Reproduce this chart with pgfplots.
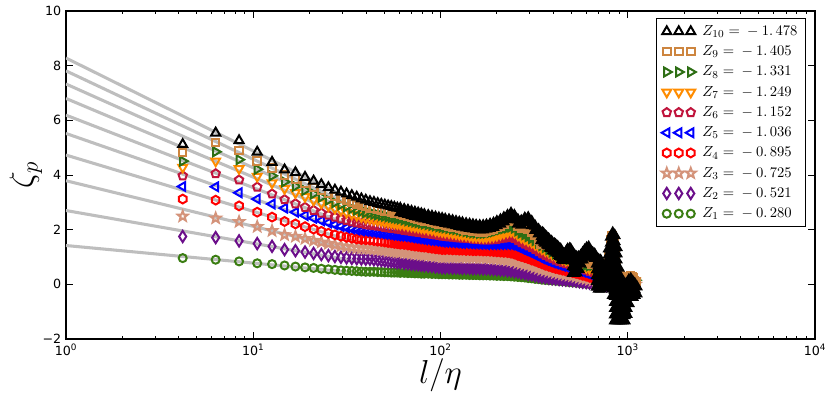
\documentclass[border=0pt]{standalone}
\usepackage{fontspec}
\usepackage{pgfplots}
\pgfplotsset{compat=1.18}
\usepackage{pgfplotstable}
\newfontfamily\dv{DejaVu Sans}
\definecolor{cZ1}{HTML}{3A7D12}
\definecolor{cZ2}{HTML}{6B0E8A}
\definecolor{cZ3}{HTML}{D4937A}
\definecolor{cZ4}{HTML}{FF0000}
\definecolor{cZ5}{HTML}{0000FF}
\definecolor{cZ6}{HTML}{C0143C}
\definecolor{cZ7}{HTML}{FF8C00}
\definecolor{cZ8}{HTML}{2D6E14}
\definecolor{cZ9}{HTML}{CD853F}
\definecolor{cZ10}{HTML}{000000}
\definecolor{fitgray}{HTML}{BEBEBE}

\pgfdeclareplotmark{hexa}{%
  \pgfpathmoveto{\pgfpointpolar{90}{\pgfplotmarksize}}%
  \pgfpathlineto{\pgfpointpolar{150}{\pgfplotmarksize}}%
  \pgfpathlineto{\pgfpointpolar{210}{\pgfplotmarksize}}%
  \pgfpathlineto{\pgfpointpolar{270}{\pgfplotmarksize}}%
  \pgfpathlineto{\pgfpointpolar{330}{\pgfplotmarksize}}%
  \pgfpathlineto{\pgfpointpolar{30}{\pgfplotmarksize}}%
  \pgfpathclose\pgfusepathqstroke}
\pgfdeclareplotmark{hexa*}{%
  \pgfpathmoveto{\pgfpointpolar{90}{\pgfplotmarksize}}%
  \pgfpathlineto{\pgfpointpolar{150}{\pgfplotmarksize}}%
  \pgfpathlineto{\pgfpointpolar{210}{\pgfplotmarksize}}%
  \pgfpathlineto{\pgfpointpolar{270}{\pgfplotmarksize}}%
  \pgfpathlineto{\pgfpointpolar{330}{\pgfplotmarksize}}%
  \pgfpathlineto{\pgfpointpolar{30}{\pgfplotmarksize}}%
  \pgfpathclose\pgfusepathqfillstroke}
\pgfdeclareplotmark{starm}{%
  \pgfpathmoveto{\pgfpointpolar{90}{\pgfplotmarksize}}%
  \pgfpathlineto{\pgfpointpolar{126}{0.42*\pgfplotmarksize}}%
  \pgfpathlineto{\pgfpointpolar{162}{\pgfplotmarksize}}%
  \pgfpathlineto{\pgfpointpolar{198}{0.42*\pgfplotmarksize}}%
  \pgfpathlineto{\pgfpointpolar{234}{\pgfplotmarksize}}%
  \pgfpathlineto{\pgfpointpolar{270}{0.42*\pgfplotmarksize}}%
  \pgfpathlineto{\pgfpointpolar{306}{\pgfplotmarksize}}%
  \pgfpathlineto{\pgfpointpolar{342}{0.42*\pgfplotmarksize}}%
  \pgfpathlineto{\pgfpointpolar{18}{\pgfplotmarksize}}%
  \pgfpathlineto{\pgfpointpolar{54}{0.42*\pgfplotmarksize}}%
  \pgfpathclose\pgfusepathqstroke}
\pgfdeclareplotmark{starm*}{%
  \pgfpathmoveto{\pgfpointpolar{90}{\pgfplotmarksize}}%
  \pgfpathlineto{\pgfpointpolar{126}{0.42*\pgfplotmarksize}}%
  \pgfpathlineto{\pgfpointpolar{162}{\pgfplotmarksize}}%
  \pgfpathlineto{\pgfpointpolar{198}{0.42*\pgfplotmarksize}}%
  \pgfpathlineto{\pgfpointpolar{234}{\pgfplotmarksize}}%
  \pgfpathlineto{\pgfpointpolar{270}{0.42*\pgfplotmarksize}}%
  \pgfpathlineto{\pgfpointpolar{306}{\pgfplotmarksize}}%
  \pgfpathlineto{\pgfpointpolar{342}{0.42*\pgfplotmarksize}}%
  \pgfpathlineto{\pgfpointpolar{18}{\pgfplotmarksize}}%
  \pgfpathlineto{\pgfpointpolar{54}{0.42*\pgfplotmarksize}}%
  \pgfpathclose\pgfusepathqfillstroke}

% sparse, small scales (hollow markers)
\pgfplotstableread{
x z1 z2 z3 z4 z5 z6 z7 z8 z9 z10
4.2 0.96 1.75 2.49 3.12 3.58 3.97 4.28 4.51 4.82 5.12
6.3 0.90 1.71 2.42 3.08 3.57 4.05 4.51 4.85 5.19 5.54
8.4 0.84 1.59 2.29 2.87 3.35 3.82 4.23 4.56 4.89 5.26
10.5 0.77 1.49 2.11 2.64 3.12 3.56 3.95 4.21 4.52 4.84
12.6 0.74 1.39 1.96 2.46 2.94 3.31 3.71 3.97 4.25 4.47
14.7 0.69 1.27 1.81 2.30 2.79 3.10 3.50 3.75 4.00 4.19
16.8 0.65 1.23 1.75 2.21 2.64 2.95 3.35 3.59 3.85 4.09
18.9 0.62 1.18 1.67 2.11 2.52 2.82 3.21 3.44 3.69 3.92
21.0 0.60 1.13 1.60 2.02 2.42 2.71 3.08 3.31 3.55 3.78
23.1 0.57 1.09 1.54 1.94 2.33 2.61 2.97 3.19 3.43 3.65
25.2 0.55 1.05 1.49 1.87 2.25 2.53 2.87 3.08 3.32 3.54
27.3 0.53 1.02 1.44 1.81 2.18 2.46 2.78 2.99 3.22 3.45
29.4 0.51 0.99 1.40 1.76 2.12 2.40 2.70 2.91 3.14 3.38
31.5 0.50 0.97 1.37 1.72 2.07 2.34 2.63 2.84 3.06 3.31
33.6 0.49 0.95 1.35 1.69 2.03 2.29 2.57 2.77 2.99 3.25
35.7 0.48 0.94 1.33 1.66 1.99 2.25 2.52 2.72 2.93 3.19
37.8 0.47 0.93 1.32 1.64 1.96 2.22 2.47 2.67 2.88 3.13
39.9 0.46 0.92 1.31 1.63 1.94 2.19 2.43 2.63 2.84 3.08
42.0 0.46 0.92 1.30 1.62 1.92 2.17 2.40 2.60 2.80 3.03
44.1 0.46 0.90 1.28 1.60 1.90 2.15 2.37 2.57 2.77 3.00
46.2 0.45 0.89 1.27 1.58 1.88 2.13 2.35 2.55 2.74 2.96
48.3 0.45 0.87 1.25 1.57 1.86 2.11 2.33 2.52 2.71 2.93
50.4 0.44 0.86 1.24 1.55 1.84 2.09 2.30 2.50 2.68 2.90
52.5 0.44 0.84 1.22 1.53 1.83 2.07 2.28 2.47 2.66 2.87
54.6 0.43 0.83 1.21 1.52 1.81 2.05 2.26 2.45 2.63 2.85
56.7 0.43 0.82 1.20 1.50 1.80 2.04 2.24 2.43 2.61 2.82
58.8 0.43 0.80 1.18 1.49 1.78 2.02 2.22 2.41 2.59 2.79
}\tabA

% dense, large scales (markers overlap into solid bands)
\pgfplotstableread{
x z1 z2 z3 z4 z5 z6 z7 z8 z9 z10 z10b
61 0.42 0.79 1.17 1.47 1.77 2.00 2.20 2.39 2.55 2.78 2.63
64 0.42 0.77 1.15 1.46 1.75 1.98 2.18 2.36 2.51 2.74 2.59
67 0.41 0.76 1.14 1.44 1.73 1.96 2.15 2.33 2.48 2.71 2.56
70 0.41 0.74 1.12 1.42 1.71 1.94 2.13 2.31 2.44 2.67 2.52
73 0.40 0.73 1.11 1.40 1.69 1.92 2.11 2.28 2.41 2.64 2.49
76 0.40 0.72 1.10 1.39 1.67 1.90 2.09 2.26 2.38 2.61 2.46
79 0.39 0.70 1.08 1.37 1.66 1.89 2.07 2.24 2.35 2.58 2.43
82 0.39 0.69 1.07 1.36 1.64 1.87 2.05 2.21 2.32 2.55 2.40
86 0.39 0.67 1.05 1.34 1.62 1.85 2.02 2.19 2.29 2.52 2.37
90 0.38 0.66 1.04 1.32 1.60 1.83 2.00 2.16 2.26 2.49 2.34
94 0.38 0.64 1.02 1.30 1.59 1.81 1.97 2.14 2.23 2.46 2.31
98 0.37 0.63 1.01 1.29 1.57 1.79 1.95 2.11 2.20 2.43 2.28
102 0.37 0.61 0.99 1.27 1.55 1.77 1.93 2.09 2.18 2.41 2.26
106 0.37 0.61 0.99 1.27 1.55 1.76 1.91 2.07 2.15 2.38 2.23
111 0.36 0.61 0.99 1.27 1.54 1.74 1.89 2.05 2.13 2.36 2.21
116 0.36 0.60 0.99 1.26 1.53 1.73 1.87 2.03 2.10 2.33 2.18
121 0.36 0.60 0.99 1.26 1.52 1.71 1.85 2.01 2.07 2.30 2.15
126 0.35 0.60 0.99 1.25 1.51 1.70 1.83 1.99 2.04 2.27 2.12
131 0.35 0.59 0.99 1.25 1.50 1.69 1.81 1.96 2.02 2.25 2.10
137 0.35 0.59 0.98 1.24 1.50 1.68 1.79 1.93 1.99 2.22 2.07
143 0.34 0.59 0.98 1.24 1.49 1.67 1.77 1.91 1.97 2.20 2.05
149 0.34 0.58 0.98 1.23 1.48 1.66 1.75 1.89 1.95 2.18 2.03
155 0.34 0.58 0.98 1.23 1.48 1.65 1.74 1.88 1.93 2.16 2.01
162 0.33 0.58 0.97 1.23 1.47 1.64 1.73 1.87 1.92 2.15 2.00
169 0.33 0.57 0.97 1.22 1.47 1.63 1.72 1.87 1.92 2.15 2.00
176 0.33 0.57 0.96 1.22 1.46 1.63 1.73 1.88 1.94 2.17 2.02
184 0.32 0.56 0.95 1.21 1.46 1.63 1.74 1.90 1.97 2.20 2.05
192 0.32 0.55 0.94 1.20 1.46 1.64 1.76 1.93 2.01 2.24 2.09
200 0.31 0.54 0.93 1.19 1.46 1.65 1.79 1.97 2.07 2.30 2.15
209 0.31 0.53 0.91 1.18 1.46 1.67 1.83 2.01 2.13 2.36 2.21
218 0.30 0.52 0.90 1.17 1.46 1.69 1.87 2.04 2.21 2.44 2.29
228 0.30 0.50 0.88 1.16 1.46 1.71 1.91 2.07 2.29 2.52 2.37
238 0.29 0.49 0.86 1.14 1.45 1.72 1.94 2.10 2.37 2.60 2.45
248 0.28 0.47 0.83 1.11 1.42 1.68 1.90 2.06 2.29 2.52 2.37
259 0.27 0.45 0.79 1.06 1.36 1.60 1.80 1.96 2.13 2.36 2.21
270 0.26 0.42 0.76 1.02 1.30 1.53 1.72 1.88 2.05 2.32 2.17
282 0.25 0.40 0.73 0.98 1.24 1.47 1.66 1.82 2.05 2.42 2.27
294 0.23 0.37 0.70 0.94 1.19 1.41 1.60 1.75 2.00 2.44 2.29
307 0.22 0.35 0.66 0.89 1.13 1.35 1.54 1.68 1.92 2.30 2.15
320 0.20 0.32 0.62 0.85 1.07 1.28 1.46 1.60 1.78 2.13 1.98
334 0.19 0.29 0.58 0.80 1.01 1.20 1.38 1.51 1.62 2.00 1.85
348 0.17 0.27 0.54 0.75 0.94 1.12 1.30 1.42 nan nan nan
363 0.16 0.25 0.51 0.70 0.89 1.06 1.23 1.35 nan nan nan
379 0.15 0.23 0.48 0.66 0.84 1.00 1.16 1.27 nan nan nan
395 0.14 0.21 0.45 0.62 0.79 0.94 1.09 1.19 nan nan nan
412 0.13 0.20 0.42 0.58 0.75 0.89 1.03 1.12 nan nan nan
430 0.12 0.18 0.40 0.55 0.71 0.84 0.97 1.06 nan nan nan
448 0.11 0.17 0.37 0.52 0.67 0.80 0.92 1.01 nan nan nan
467 0.10 0.16 0.35 0.49 0.64 0.76 0.88 0.96 nan nan nan
487 0.08 0.15 0.33 0.46 0.61 0.72 0.84 0.92 nan nan nan
508 0.07 0.14 0.31 0.43 0.58 0.69 0.80 0.88 nan nan nan
530 0.06 0.12 0.28 0.40 0.54 0.65 0.76 0.84 nan nan nan
552 0.05 0.10 0.25 0.37 0.50 0.61 0.72 0.80 nan nan nan
575 0.03 0.08 0.22 0.33 0.45 0.57 0.67 0.75 nan nan nan
600 0.02 0.07 0.20 0.30 0.41 0.52 0.62 0.70 nan nan nan
625 0.01 0.05 0.17 0.26 0.37 0.48 0.58 0.68 nan nan nan
652 0.00 0.03 0.14 0.22 0.32 0.44 0.56 0.70 nan nan nan
680 -0.01 0.01 0.11 0.18 0.27 0.40 0.55 0.72 nan nan nan
709 -0.03 0.00 0.08 0.14 0.22 0.34 0.45 0.58 nan nan nan
739 -0.05 -0.02 0.05 0.10 0.18 0.28 0.36 0.45 nan nan nan
770 -0.06 -0.04 0.03 0.07 0.14 0.22 0.28 0.35 nan nan nan
803 -0.08 -0.06 0.00 0.04 0.10 0.18 0.24 0.30 nan nan nan
837 -0.09 -0.08 -0.02 0.02 0.08 0.14 0.20 0.25 nan nan nan
873 -0.10 -0.10 -0.04 0.00 0.05 0.10 0.15 0.20 nan nan nan
910 -0.10 -0.10 -0.05 -0.02 0.02 0.06 0.10 0.14 nan nan nan
949 -0.10 -0.10 -0.05 -0.02 0.00 0.03 0.06 0.10 nan nan nan
989 -0.10 -0.08 -0.03 0.00 0.02 0.05 0.08 0.12 nan nan nan
1031 -0.10 -0.05 0.00 0.03 0.05 0.08 0.12 0.15 nan nan nan
1075 -0.10 -0.05 0.00 0.03 0.05 0.08 0.12 0.15 nan nan nan
1100 -0.10 -0.05 0.00 0.03 0.05 0.08 0.12 0.15 nan nan nan
}\tabB

% Z9 at the largest scales
\pgfplotstableread{
x y
342.6 1.47
364.4 1.42
387.5 1.34
412.1 1.27
438.3 1.17
454.8 1.02
471.9 1.04
489.6 1.10
501.8 0.97
514.3 0.67
527.2 0.72
540.3 0.67
553.8 0.77
567.6 0.87
581.7 0.92
596.2 1.02
611.0 1.12
626.2 0.97
634.0 0.80
641.8 0.74
649.8 0.76
665.9 0.80
682.5 0.70
699.5 0.25
716.9 0.50
734.8 0.55
753.2 0.30
772.0 0.40
791.3 1.05
811.0 1.62
821.1 1.78
831.2 1.76
841.5 1.63
852.0 1.48
862.5 1.12
873.2 0.72
884.0 0.42
895.0 0.32
906.1 0.28
917.3 0.33
928.7 0.28
940.2 0.10
951.9 0.00
963.7 0.10
975.7 0.18
987.8 0.08
1000.0 0.08
1012.4 0.20
1024.9 0.28
1037.6 0.30
1050.5 0.23
1063.5 0.28
1076.7 0.23
1090.0 0.13
1103.5 0.08
1117.2 0.10
}\tabNine

% Z10 at the largest scales (many overlapping points)
\pgfplotstableread{
x y
342.6 1.90
344.7 1.60
346.9 1.75
349.0 1.60
351.2 1.88
353.4 1.64
355.6 1.84
357.8 1.55
360.0 1.70
362.2 1.51
364.4 1.76
366.7 1.52
368.9 1.72
371.2 1.45
373.5 1.62
375.8 1.42
378.1 1.66
380.4 1.41
382.8 1.60
385.2 1.34
387.5 1.52
389.9 1.32
392.3 1.56
394.7 1.31
397.2 1.50
399.7 1.24
402.1 1.42
404.6 1.22
407.1 1.47
409.6 1.24
412.1 1.44
414.6 1.18
417.2 1.35
419.8 1.15
422.4 1.38
425.0 1.14
427.6 1.33
430.2 1.06
432.9 1.22
435.6 1.03
438.3 1.28
441.0 1.01
443.7 1.18
446.4 0.92
449.2 1.10
452.0 0.89
454.8 1.12
457.6 0.87
460.4 1.05
463.2 0.88
466.1 1.15
469.0 0.97
471.9 1.22
474.8 1.03
477.7 1.28
480.7 1.03
483.6 1.22
486.6 1.04
489.6 1.30
492.6 1.07
495.7 1.05
495.7 1.28
508.0 0.40
508.0 0.65
508.0 0.90
508.0 1.15
520.7 0.40
520.7 0.62
520.7 0.84
520.7 1.05
533.7 0.42
533.7 0.61
533.7 0.80
533.7 1.00
547.0 0.55
547.0 0.78
547.0 1.00
560.7 0.74
560.7 0.90
560.7 1.05
574.6 0.90
574.6 1.15
588.9 1.00
588.9 1.25
603.6 1.05
603.6 1.33
618.6 1.05
618.6 1.36
634.0 1.02
634.0 1.22
649.8 1.00
649.8 1.15
665.9 0.95
665.9 1.10
682.5 -0.10
682.5 0.11
682.5 0.32
682.5 0.53
682.5 0.74
682.5 0.95
699.5 -0.17
699.5 0.04
699.5 0.26
699.5 0.47
699.5 0.69
699.5 0.90
716.9 -0.17
716.9 0.04
716.9 0.25
716.9 0.45
716.9 0.66
716.9 0.87
734.8 -0.12
734.8 0.14
734.8 0.39
734.8 0.65
753.2 -0.10
753.2 0.12
753.2 0.33
753.2 0.55
772.0 -0.05
772.0 0.16
772.0 0.38
772.0 0.59
772.0 0.80
791.3 -0.05
791.3 0.18
791.3 0.40
791.3 0.63
791.3 0.85
791.3 1.08
791.3 1.30
811.0 -0.05
811.0 0.17
811.0 0.40
811.0 0.62
811.0 0.84
811.0 1.06
811.0 1.29
811.0 1.51
811.0 1.73
831.2 -0.40
831.2 -0.17
831.2 0.06
831.2 0.29
831.2 0.51
831.2 0.74
831.2 0.97
831.2 1.20
831.2 1.42
831.2 1.65
831.2 1.88
852.0 -1.33
852.0 -1.11
852.0 -0.88
852.0 -0.66
852.0 -0.44
852.0 -0.22
852.0 0.01
852.0 0.23
852.0 0.45
852.0 0.67
852.0 0.90
852.0 1.12
852.0 1.34
852.0 1.57
852.0 1.79
873.2 -1.33
873.2 -1.11
873.2 -0.88
873.2 -0.66
873.2 -0.44
873.2 -0.22
873.2 0.01
873.2 0.23
873.2 0.45
873.2 0.68
873.2 0.90
873.2 1.12
873.2 1.35
895.0 -1.33
895.0 -1.12
895.0 -0.90
895.0 -0.69
895.0 -0.47
895.0 -0.26
895.0 -0.05
895.0 0.17
895.0 0.38
895.0 0.60
917.3 -1.33
917.3 -1.13
917.3 -0.92
917.3 -0.72
917.3 -0.51
917.3 -0.31
917.3 -0.10
917.3 0.10
940.2 -1.33
940.2 -1.13
940.2 -0.94
940.2 -0.74
940.2 -0.54
940.2 -0.35
940.2 -0.15
940.2 0.05
963.7 -1.33
963.7 -1.14
963.7 -0.94
963.7 -0.75
963.7 -0.56
963.7 -0.37
963.7 -0.17
963.7 0.02
987.8 -1.10
987.8 -0.88
987.8 -0.65
987.8 -0.43
987.8 -0.20
987.8 0.02
1012.4 -0.70
1012.4 -0.42
1012.4 -0.13
1012.4 0.15
1037.6 -0.47
1037.6 -0.25
1037.6 -0.03
1037.6 0.20
1063.5 -0.47
1063.5 -0.18
1063.5 0.10
1090.0 -0.40
1090.0 -0.19
1090.0 0.02
1117.2 -0.35
1117.2 -0.09
}\tabTen

\pgfplotsset{
  mk/.style={only marks, line width=1.5pt},
  s1/.style={mk, color=cZ1, mark=o, mark size=3.0pt},
  s1f/.style={mk, color=cZ1, mark=*, mark size=3.0pt},
  s2/.style={mk, color=cZ2, mark=diamond, mark size=4.2pt, mark options={xscale=0.85}},
  s2f/.style={mk, color=cZ2, mark=diamond*, mark size=4.2pt, mark options={xscale=0.85}},
  s3/.style={mk, color=cZ3, mark=starm, mark size=3.9pt},
  s3f/.style={mk, color=cZ3, mark=starm*, mark size=3.9pt},
  s4/.style={mk, color=cZ4, mark=hexa, mark size=3.3pt},
  s4f/.style={mk, color=cZ4, mark=hexa*, mark size=3.3pt},
  s5/.style={mk, color=cZ5, mark=triangle, mark size=3.8pt, mark options={rotate=90}},
  s5f/.style={mk, color=cZ5, mark=triangle*, mark size=3.8pt, mark options={rotate=90}},
  s6/.style={mk, color=cZ6, mark=pentagon, mark size=3.3pt},
  s6f/.style={mk, color=cZ6, mark=pentagon*, mark size=3.3pt},
  s7/.style={mk, color=cZ7, mark=triangle, mark size=3.8pt, mark options={rotate=180}},
  s7f/.style={mk, color=cZ7, mark=triangle*, mark size=3.8pt, mark options={rotate=180}},
  s8/.style={mk, color=cZ8, mark=triangle, mark size=3.8pt, mark options={rotate=-90}},
  s8f/.style={mk, color=cZ8, mark=triangle*, mark size=3.8pt, mark options={rotate=-90}},
  s9/.style={mk, color=cZ9, mark=square, mark size=2.8pt},
  s9f/.style={mk, color=cZ9, mark=square*, mark size=2.8pt},
  s10/.style={mk, color=cZ10, mark=triangle, mark size=3.9pt},
  s10f/.style={mk, color=cZ10, mark=triangle*, mark size=3.9pt},
  fit/.style={forget plot, color=fitgray, line width=2.3pt, no marks},
}

\begin{document}
\begin{tikzpicture}
\begin{axis}[
  at={(0,0)}, anchor=south west,
  scale only axis, width=561.75pt, height=246pt,
  xmode=log, xmin=1, xmax=10000, ymin=-2, ymax=10,
  xtick={1,10,100,1000,10000},
  xticklabels={10\textsuperscript{0},10\textsuperscript{1},10\textsuperscript{2},10\textsuperscript{3},10\textsuperscript{4}},
  minor xtick={2,3,4,5,6,7,8,9,20,30,40,50,60,70,80,90,200,300,400,500,600,700,800,900,2000,3000,4000,5000,6000,7000,8000,9000},
  ytick={-2,0,2,4,6,8,10},
  yticklabels={−2,0,2,4,6,8,10},
  ticklabel style={font=\dv\fontsize{9.5}{11}\selectfont},
  xlabel={$l/\eta$}, ylabel={$\zeta_p$},
  label style={font=\fontsize{23}{26}\selectfont},
  xlabel style={at={(axis description cs:0.5,0)}, anchor=center, yshift=-27pt},
  ylabel style={at={(axis description cs:-0.0535,0.5)}, anchor=center},
  tick align=inside,
  axis line style={line width=0.8pt},
  major tick length=5pt, minor tick length=2.5pt,
  every tick/.style={line width=0.6pt, black},
  reverse legend,
  legend cell align=left,
  legend image code/.code={%
    \draw[#1, only marks] plot coordinates {(0pt,0pt) (9pt,0pt) (18pt,0pt)};},
  legend style={at={(axis description cs:1,1)}, anchor=north east,
    xshift=-6.75pt, yshift=-5.5pt, draw=black, line width=0.8pt,
    font=\fontsize{11}{13}\selectfont, row sep=2.2pt, column sep=3pt,
    inner xsep=4pt, inner ysep=3pt},
]
% fitted lines
\addplot[fit] coordinates {(1,1.42) (40,0.39)};
\addplot[fit] coordinates {(1,2.70) (40,0.78)};
\addplot[fit] coordinates {(1,3.79) (40,1.12)};
\addplot[fit] coordinates {(1,4.73) (40,1.43)};
\addplot[fit] coordinates {(1,5.52) (40,1.70)};
\addplot[fit] coordinates {(1,6.19) (40,1.94)};
\addplot[fit] coordinates {(1,6.80) (40,2.19)};
\addplot[fit] coordinates {(1,7.33) (40,2.42)};
\addplot[fit] coordinates {(1,7.81) (40,2.63)};
\addplot[fit] coordinates {(1,8.28) (40,2.83)};

\addplot[s1] table[x=x,y=z1] {\tabA};
\addlegendentry{$Z_{1}={}-{}0.\,280$}
\addplot[s1f, forget plot] table[x=x,y=z1] {\tabB};

\addplot[s2] table[x=x,y=z2] {\tabA};
\addlegendentry{$Z_{2}={}-{}0.\,521$}
\addplot[s2f, forget plot] table[x=x,y=z2] {\tabB};

\addplot[s3] table[x=x,y=z3] {\tabA};
\addlegendentry{$Z_{3}={}-{}0.\,725$}
\addplot[s3f, forget plot] table[x=x,y=z3] {\tabB};

\addplot[s4] table[x=x,y=z4] {\tabA};
\addlegendentry{$Z_{4}={}-{}0.\,895$}
\addplot[s4f, forget plot] table[x=x,y=z4] {\tabB};

\addplot[s5] table[x=x,y=z5] {\tabA};
\addlegendentry{$Z_{5}={}-{}1.\,036$}
\addplot[s5f, forget plot] table[x=x,y=z5] {\tabB};

\addplot[s6] table[x=x,y=z6] {\tabA};
\addlegendentry{$Z_{6}={}-{}1.\,152$}
\addplot[s6f, forget plot] table[x=x,y=z6] {\tabB};

\addplot[s7] table[x=x,y=z7] {\tabA};
\addlegendentry{$Z_{7}={}-{}1.\,249$}
\addplot[s7f, forget plot] table[x=x,y=z7] {\tabB};

\addplot[s8] table[x=x,y=z8] {\tabA};
\addlegendentry{$Z_{8}={}-{}1.\,331$}
\addplot[s8f, forget plot] table[x=x,y=z8] {\tabB};

\addplot[s9] table[x=x,y=z9] {\tabA};
\addlegendentry{$Z_{9}={}-{}1.\,405$}
\addplot[s9f, forget plot] table[x=x,y=z9] {\tabB};
\addplot[s9f, forget plot] table[x=x,y=y] {\tabNine};

\addplot[s10] table[x=x,y=z10] {\tabA};
\addlegendentry{$Z_{10}={}-{}1.\,478$}
\addplot[s10f, forget plot] table[x=x,y=z10] {\tabB};
\addplot[s10f, forget plot] table[x=x,y=z10b] {\tabB};
\addplot[s10f, forget plot] table[x=x,y=y] {\tabTen};
\end{axis}
\pgfresetboundingbox
\path (-49.5pt,-45.75pt) rectangle (572.25pt,254.25pt);
\end{tikzpicture}
\end{document}
